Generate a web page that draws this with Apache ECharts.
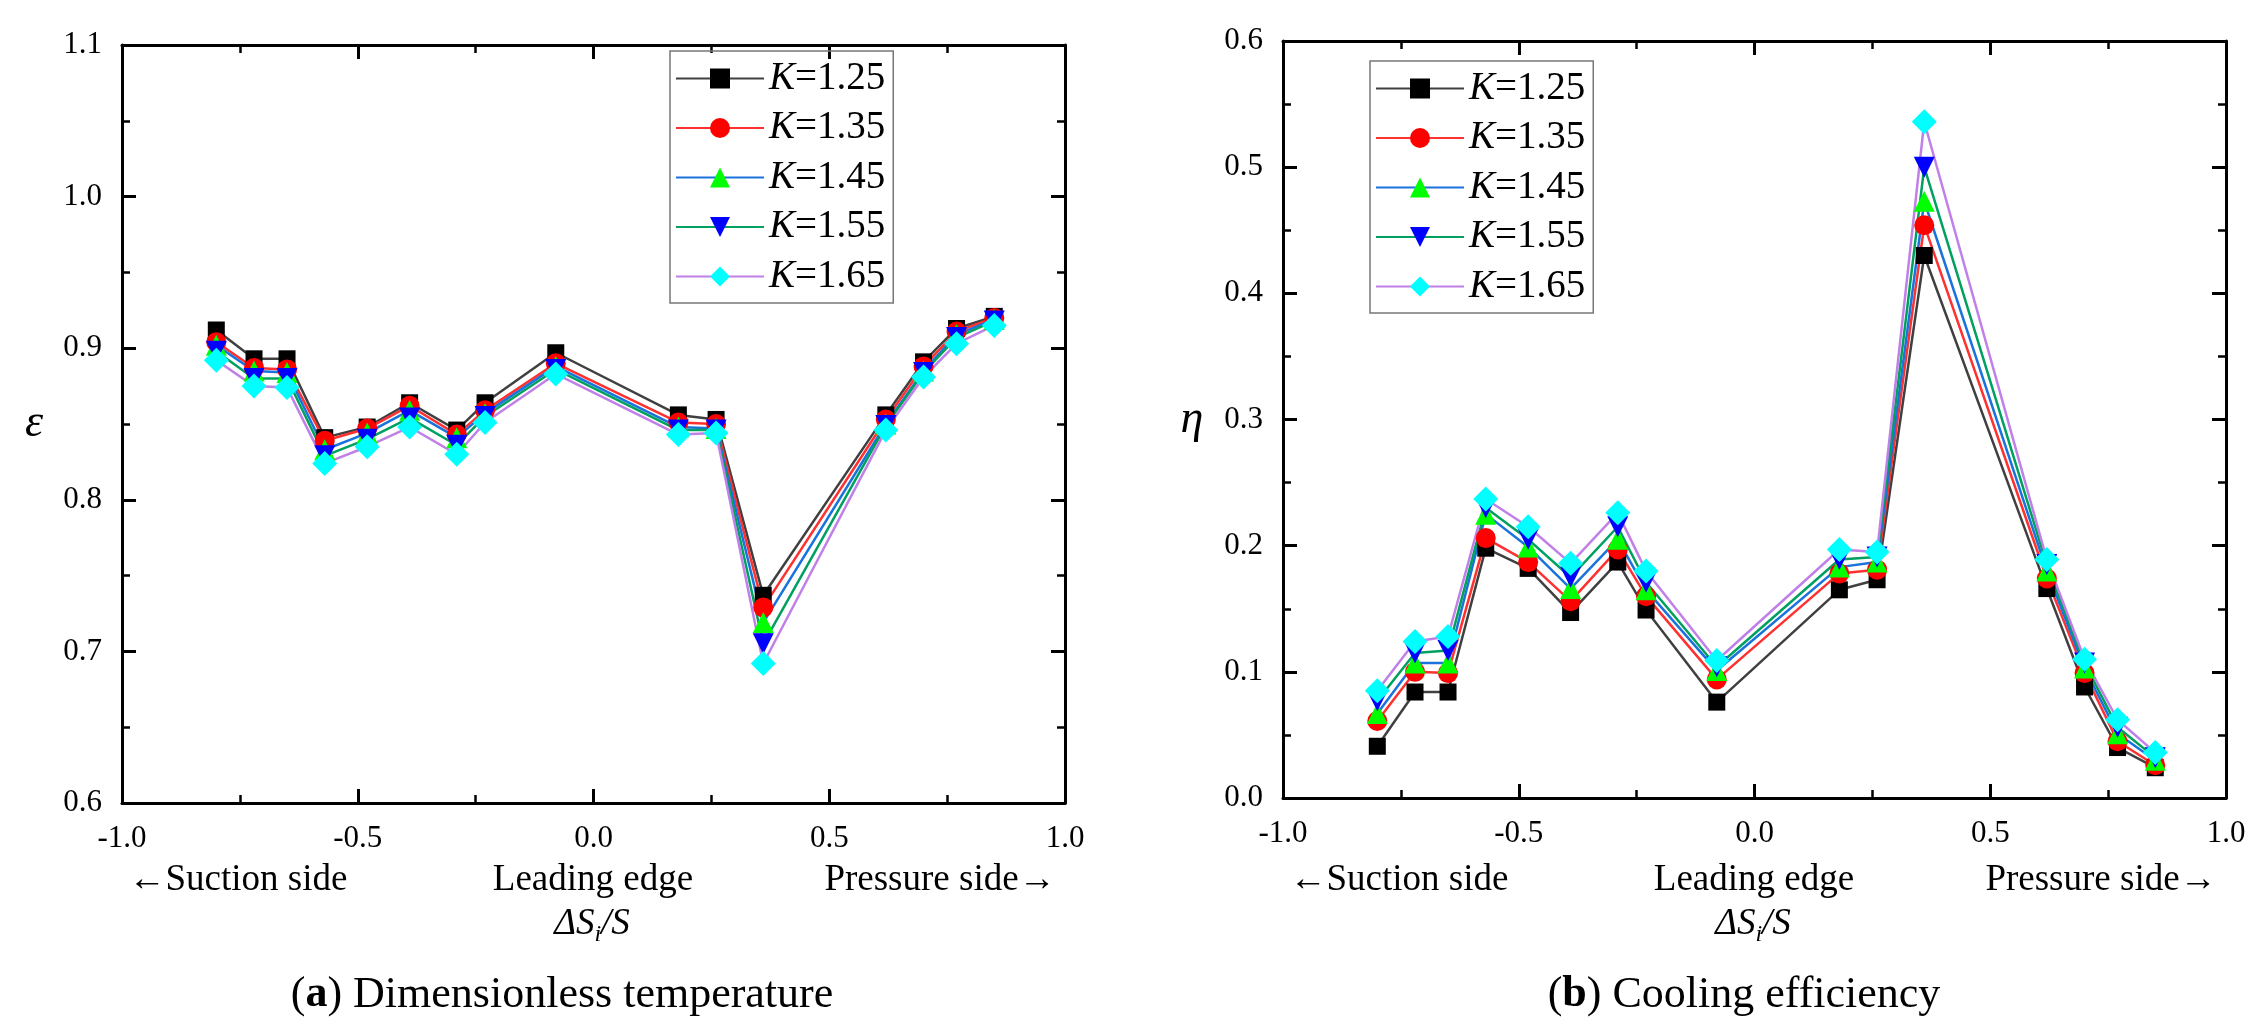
<!DOCTYPE html>
<html>
<head>
<meta charset="utf-8">
<title>Dimensionless temperature and cooling efficiency</title>
<script src="https://cdn.jsdelivr.net/npm/echarts@6/dist/echarts.min.js"></script>
<style>
    html, body { margin: 0; padding: 0; background: #fff; }
    #chart { width: 2256px; height: 1031px; }
</style>
</head>
<body>
<div id="chart"></div>
<script>
// x positions of the measuring points (ΔSi/S)
var positions = [-0.80, -0.72, -0.65, -0.57, -0.48, -0.39, -0.29, -0.23, -0.08, 0.18, 0.26, 0.36, 0.62, 0.70, 0.77, 0.85];
var seriesNames = ['K=1.25', 'K=1.35', 'K=1.45', 'K=1.55', 'K=1.65'];

// (a) dimensionless temperature ε
var epsK125 = [0.912, 0.893, 0.893, 0.841, 0.848, 0.864, 0.846, 0.864, 0.897, 0.856, 0.853, 0.737, 0.856, 0.891, 0.913, 0.921];
var epsK135 = [0.904, 0.887, 0.886, 0.839, 0.847, 0.862, 0.843, 0.859, 0.890, 0.851, 0.850, 0.729, 0.853, 0.888, 0.911, 0.920];
var epsK145 = [0.902, 0.885, 0.884, 0.833, 0.844, 0.859, 0.841, 0.857, 0.888, 0.848, 0.847, 0.719, 0.850, 0.885, 0.909, 0.919];
var epsK155 = [0.898, 0.880, 0.880, 0.829, 0.840, 0.854, 0.836, 0.855, 0.886, 0.846, 0.846, 0.705, 0.849, 0.884, 0.907, 0.918];
var epsK165 = [0.892, 0.875, 0.874, 0.824, 0.835, 0.848, 0.830, 0.851, 0.883, 0.843, 0.844, 0.692, 0.846, 0.881, 0.903, 0.915];

// (b) cooling efficiency η
var etaK125 = [0.041, 0.084, 0.084, 0.198, 0.182, 0.147, 0.187, 0.149, 0.076, 0.165, 0.173, 0.430, 0.166, 0.088, 0.040, 0.024];
var etaK135 = [0.061, 0.100, 0.099, 0.206, 0.187, 0.156, 0.197, 0.160, 0.094, 0.178, 0.181, 0.454, 0.174, 0.099, 0.045, 0.026];
var etaK145 = [0.067, 0.107, 0.107, 0.225, 0.199, 0.166, 0.205, 0.165, 0.101, 0.183, 0.187, 0.473, 0.180, 0.103, 0.051, 0.030];
var etaK155 = [0.077, 0.115, 0.117, 0.230, 0.205, 0.175, 0.215, 0.171, 0.104, 0.189, 0.191, 0.500, 0.185, 0.107, 0.056, 0.032];
var etaK165 = [0.085, 0.124, 0.128, 0.237, 0.215, 0.186, 0.226, 0.180, 0.109, 0.197, 0.195, 0.536, 0.189, 0.110, 0.062, 0.036];

var epsSets = [epsK125, epsK135, epsK145, epsK155, epsK165];
var etaSets = [etaK125, etaK135, etaK145, etaK155, etaK165];

// styles
var lineColors = ['#404040', '#ff3030', '#1a72dc', '#00a060', '#c080e8'];
var markColors = ['#000000', '#ff0000', '#00ff00', '#0000ff', '#00ffff'];
var symbols = ['rect', 'circle', 'triangle', 'triangle', 'diamond'];
var symbolSizes = [17, 20, 21, 21, 25];
var symbolRotates = [0, 0, 0, 180, 0];
var serif = 'Liberation Serif';

var myChart = echarts.init(document.getElementById('chart'));

function mainX(grid) {
    return {
        type: 'value', gridIndex: grid, min: -1, max: 1, interval: 0.5,
        axisLine: { show: true, onZero: false, lineStyle: { color: '#000', width: 3 } },
        axisTick: { show: true, inside: true, length: 14, lineStyle: { color: '#000', width: 3 } },
        minorTick: { show: true, splitNumber: 2, length: 8, lineStyle: { color: '#000', width: 2.5 } },
        axisLabel: {
            margin: 20, color: '#000', fontFamily: serif, fontSize: 31,
            formatter: function (v) { return v.toFixed(1); }
        },
        splitLine: { show: false }
    };
}
function mirrorX(grid) {
    var a = mainX(grid);
    a.position = 'top';
    a.axisLabel = { show: false };
    return a;
}
function mainY(grid, min, max) {
    return {
        type: 'value', gridIndex: grid, min: min, max: max, interval: 0.1,
        axisLine: { show: true, onZero: false, lineStyle: { color: '#000', width: 3 } },
        axisTick: { show: true, inside: true, length: 14, lineStyle: { color: '#000', width: 3 } },
        minorTick: { show: true, splitNumber: 2, length: 8, lineStyle: { color: '#000', width: 2.5 } },
        axisLabel: {
            margin: 20, color: '#000', fontFamily: serif, fontSize: 31,
            formatter: function (v) { return v.toFixed(1); }
        },
        splitLine: { show: false }
    };
}
function mirrorY(grid, min, max) {
    var a = mainY(grid, min, max);
    a.position = 'right';
    a.axisLabel = { show: false };
    return a;
}

function makeSeries(sets, axisIdx) {
    var out = [];
    for (var i = 0; i < sets.length; i++) {
        var pts = [];
        for (var j = 0; j < positions.length; j++) {
            pts.push([positions[j], sets[i][j]]);
        }
        out.push({
            name: seriesNames[i],
            type: 'line',
            xAxisIndex: axisIdx, yAxisIndex: axisIdx,
            data: pts,
            symbol: symbols[i],
            symbolSize: symbolSizes[i],
            symbolRotate: symbolRotates[i],
            showAllSymbol: true,
            lineStyle: { color: lineColors[i], width: 2.5 },
            itemStyle: { color: markColors[i], borderWidth: 0 },
            emphasis: { disabled: true }
        });
    }
    return out;
}

function makeLegend(left, top) {
    return {
        orient: 'vertical', left: left, top: top,
        data: seriesNames,
        itemWidth: 88, itemHeight: 25, itemGap: 10.5,
        padding: [8, 8, 7, 5],
        borderColor: '#777', borderWidth: 1.5,
        formatter: function (name) { return '{i|K}{n|' + name.slice(1) + '}'; },
        textStyle: {
            color: '#000', fontFamily: serif, fontSize: 39, lineHeight: 38,
            rich: {
                i: { fontStyle: 'italic', fontFamily: serif, fontSize: 39, lineHeight: 38 },
                n: { fontFamily: serif, fontSize: 39, lineHeight: 38 }
            }
        }
    };
}

function txt(x, y, text, size, extra) {
    var style = {
        text: text, x: x, y: y, fill: '#000',
        font: size + 'px ' + serif,
        textAlign: 'center', textVerticalAlign: 'middle'
    };
    if (extra) { for (var k in extra) style[k] = extra[k]; }
    return { type: 'text', style: style, silent: true };
}
function dsLabel(x, y) {
    return txt(x, y, '{it|ΔS}{sub|i}{it|/S}', 36, {
        rich: {
            it: { fontStyle: 'italic', fontFamily: serif, fontSize: 37, lineHeight: 46 },
            sub: { fontStyle: 'italic', fontFamily: serif, fontSize: 24, lineHeight: 24, verticalAlign: 'bottom' }
        }
    });
}
function caption(x, y, letter, rest) {
    return txt(x, y, '({b|' + letter + '}) ' + rest, 44, {
        rich: { b: { fontWeight: 'bold', fontFamily: serif, fontSize: 44 } }
    });
}

var option = {
    animation: false,
    backgroundColor: '#fff',
    grid: [
        { left: 122, top: 45, width: 943, height: 758, containLabel: false },
        { left: 1283, top: 41, width: 943, height: 757, containLabel: false }
    ],
    xAxis: [mainX(0), mirrorX(0), mainX(1), mirrorX(1)],
    yAxis: [mainY(0, 0.6, 1.1), mirrorY(0, 0.6, 1.1), mainY(1, 0, 0.6), mirrorY(1, 0, 0.6)],
    legend: [makeLegend(670, 51), makeLegend(1370, 61)],
    series: makeSeries(epsSets, 0).concat(makeSeries(etaSets, 2)),
    graphic: [
        txt(34, 424, 'ε', 46, { font: 'italic 46px ' + serif }),
        txt(1192, 420, 'η', 46, { font: 'italic 46px ' + serif }),
        txt(238, 880, '←Suction side', 37),
        txt(593, 880, 'Leading edge', 37),
        txt(940, 880, 'Pressure side→', 37),
        dsLabel(592, 924),
        caption(562, 995, 'a', 'Dimensionless temperature'),
        txt(1399, 880, '←Suction side', 37),
        txt(1754, 880, 'Leading edge', 37),
        txt(2101, 880, 'Pressure side→', 37),
        dsLabel(1753, 924),
        caption(1744, 995, 'b', 'Cooling efficiency')
    ]
};

myChart.setOption(option);
</script>
</body>
</html>
